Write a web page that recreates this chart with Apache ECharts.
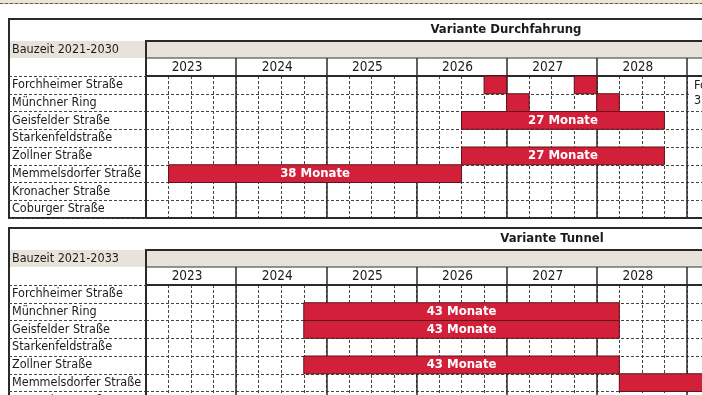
<!DOCTYPE html>
<html>
<head>
<meta charset="utf-8">
<script src="https://cdn.jsdelivr.net/npm/echarts@6/dist/echarts.min.js"></script>
<style>html,body{margin:0;padding:0;background:#fff;}#c{width:702px;height:395px;}</style>
</head>
<body>
<div id="c"></div>
<script>
// ---- data ----
const streets = ['Forchheimer Straße','Münchner Ring','Geisfelder Straße','Starkenfeldstraße','Zollner Straße','Memmelsdorfer Straße','Kronacher Straße','Coburger Straße'];
const years = ['2023','2024','2025','2026','2027','2028','2029'];
// months counted from January 2023
const durchRows   = [0, 0, 1, 1, 2, 4, 5];
const durchStart  = [45, 57, 48, 60, 42, 42, 3];
const durchEnd    = [48, 60, 51, 63, 69, 69, 42];
const durchLabels = ['', '', '', '', '27 Monate', '27 Monate', '38 Monate'];
const tunnelRows   = [1, 2, 4, 5];
const tunnelStart  = [21, 21, 21, 63];
const tunnelEnd    = [63, 63, 63, 90];
const tunnelLabels = ['43 Monate', '43 Monate', '43 Monate', ''];

// ---- build ----
const FONT = "'DejaVu Sans Condensed', 'Liberation Sans Narrow', sans-serif";
const XMAX = 76;
const DARK = '#2a2a2a';
const grids = [], xAxes = [], yAxes = [], series = [], titles = [];

function addGrid(g) { grids.push(Object.assign({ outerBoundsMode: 'none', containLabel: false }, g)); return grids.length - 1; }
function hiddenX(gi) { xAxes.push({ gridIndex: gi, type: 'value', min: 0, max: XMAX, show: false }); return xAxes.length - 1; }
function hiddenY(gi) { yAxes.push({ gridIndex: gi, type: 'value', min: 0, max: 1, show: false }); return yAxes.length - 1; }

// top dashed strip
(function () {
  const g = addGrid({ left: 0, right: 0, top: -10, height: 13.5, show: true, backgroundColor: '#ebe6d4', borderWidth: 0, z: 0 });
  xAxes.push({ gridIndex: g, type: 'value', min: 0, max: 1, position: 'bottom',
    axisLine: { show: true, lineStyle: { color: '#5d5c48', width: 1, type: [3, 2] } },
    axisTick: { show: false }, axisLabel: { show: false }, splitLine: { show: false } });
  hiddenY(g);
})();

function table(T, titleText, titleCenter, bauzeit, rows, starts, ends, labels, note) {
  let g;
  g = addGrid({ left: 9, top: T, right: -15, height: 199, show: true, backgroundColor: '#fff', borderColor: DARK, borderWidth: 2, z: 0 });
  hiddenX(g); hiddenY(g);
  g = addGrid({ left: 10, top: T + 22, right: -15, height: 17, show: true, backgroundColor: '#e8e3da', borderWidth: 0, z: 1 });
  hiddenX(g); hiddenY(g);
  g = addGrid({ left: 146, top: T + 22, right: -15, height: 35, show: true, backgroundColor: 'transparent', borderColor: DARK, borderWidth: 2, z: 2 });
  hiddenX(g); hiddenY(g);
  // year row
  g = addGrid({ left: 146, top: T + 39, right: -15, height: 18, show: true, backgroundColor: 'transparent', borderColor: '#333', borderWidth: 1, z: 2 });
  xAxes.push({ gridIndex: g, type: 'value', min: 0, max: XMAX, interval: 12, position: 'bottom', z: 3,
    axisLine: { show: false }, axisTick: { show: false }, axisLabel: { show: false },
    splitLine: { show: true, lineStyle: { color: DARK, width: 1.5 } } });
  xAxes.push({ gridIndex: g, type: 'value', min: 0, max: XMAX, interval: 6, position: 'top', z: 3,
    axisLine: { show: false }, axisTick: { show: false }, splitLine: { show: false },
    axisLabel: { inside: true, margin: 9, verticalAlign: 'middle', hideOverlap: false,
      formatter: v => (v % 12 === 6 ? years[(v - 6) / 12] : ''),
      fontFamily: FONT, fontSize: 13.5, color: '#1e1a1b', padding: [0, 8, 0, 0] } });
  hiddenY(g);
  // label column rows
  g = addGrid({ left: 9, top: T + 57, width: 137, height: 142, show: false });
  hiddenX(g);
  yAxes.push({ gridIndex: g, type: 'category', data: streets, inverse: true, z: 3,
    axisLine: { show: false }, axisTick: { show: false },
    axisLabel: { inside: true, margin: 3, interval: 0, fontFamily: FONT, fontSize: 12.5, color: '#1e1a1b' },
    splitLine: { show: true, interval: 0, lineStyle: { color: '#444', width: 1, type: [3, 2] } } });
  // main grid
  g = addGrid({ left: 146, top: T + 57, right: -15, height: 142, show: true, backgroundColor: 'transparent', borderColor: DARK, borderWidth: 2, z: 2 });
  xAxes.push({ gridIndex: g, type: 'value', min: 0, max: XMAX, interval: 3, position: 'bottom', z: 1,
    axisLine: { show: false }, axisTick: { show: false }, axisLabel: { show: false },
    splitLine: { show: true, lineStyle: { color: '#444', width: 1, type: [3, 2] } } });
  const xi = xAxes.length;
  xAxes.push({ gridIndex: g, type: 'value', min: 0, max: XMAX, interval: 12, position: 'top', z: 2,
    axisLine: { show: false }, axisTick: { show: false }, axisLabel: { show: false },
    splitLine: { show: true, lineStyle: { color: DARK, width: 1.5 } } });
  const yi = yAxes.length;
  yAxes.push({ gridIndex: g, type: 'category', data: streets, inverse: true, z: 1,
    axisLine: { show: false }, axisTick: { show: false }, axisLabel: { show: false },
    splitLine: { show: true, interval: 0, lineStyle: { color: '#444', width: 1, type: [3, 2] } } });

  series.push({
    type: 'custom', xAxisIndex: xi, yAxisIndex: yi, z: 5,
    data: rows.map((r, i) => [r, starts[i], ends[i]]),
    encode: { x: [1, 2], y: 0 },
    renderItem: function (params, api) {
      const row = api.value(0);
      const p0 = api.coord([api.value(1), row]);
      const p1 = api.coord([api.value(2), row]);
      const h = api.size([0, 1])[1];
      const cs = params.coordSys;
      const shape = echarts.graphic.clipRectByRect(
        { x: p0[0], y: p0[1] - h / 2, width: p1[0] - p0[0], height: h },
        { x: cs.x, y: cs.y, width: cs.width + 2, height: cs.height });
      if (!shape) return;
      const txt = labels[params.dataIndex];
      return {
        type: 'rect', shape: shape,
        style: { fill: '#d3203a', stroke: '#5e1519', lineWidth: 1 },
        textContent: txt ? { style: { text: txt, fill: '#fff', fontFamily: FONT, fontWeight: 'bold', fontSize: 13 } } : undefined,
        textConfig: { position: 'inside' }
      };
    }
  });

  titles.push({ text: titleText, left: titleCenter, top: T + 11, textAlign: 'center', textVerticalAlign: 'middle', padding: 0,
    textStyle: { fontFamily: FONT, fontWeight: 'bold', fontSize: 13, color: '#1e1a1b' } });
  titles.push({ text: bauzeit, left: 12, top: T + 31, textVerticalAlign: 'middle', padding: 0,
    textStyle: { fontFamily: FONT, fontWeight: 'normal', fontSize: 12.5, color: '#1e1a1b' } });
  if (note) {
    titles.push({ text: note, left: 689, top: T + 59, padding: [0, 0, 2, 5], backgroundColor: '#fff', z: 8,
      textStyle: { fontFamily: FONT, fontWeight: 'normal', fontSize: 12.5, lineHeight: 15, color: '#1e1a1b' } });
  }
}

table(19, 'Variante Durchfahrung', 506, 'Bauzeit 2021-2030', durchRows, durchStart, durchEnd, durchLabels, 'Forchheimer Straße\n3 Monate');
table(228, 'Variante Tunnel', 552, 'Bauzeit 2021-2033', tunnelRows, tunnelStart, tunnelEnd, tunnelLabels, null);

const chart = echarts.init(document.getElementById('c'), null, { renderer: 'canvas' });
chart.setOption({
  animation: false,
  backgroundColor: '#fff',
  title: titles,
  grid: grids,
  xAxis: xAxes,
  yAxis: yAxes,
  series: series
});
</script>
</body>
</html>
